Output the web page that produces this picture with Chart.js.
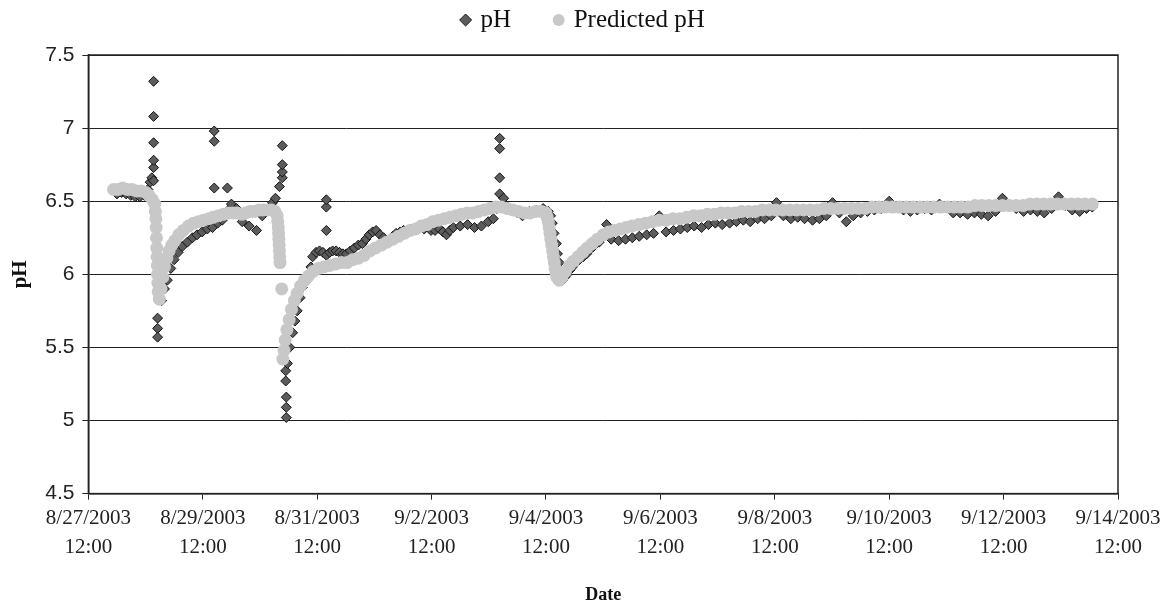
<!DOCTYPE html>
<html>
<head>
<meta charset="utf-8">
<title>pH vs Predicted pH</title>
<script src="https://cdn.jsdelivr.net/npm/chart.js@4"></script>
<style>
    html, body { margin: 0; padding: 0; background: #fff; }
    #wrap { width: 1169px; height: 607px; }
</style>
</head>
<body>
<div id="wrap"><canvas id="phChart"></canvas></div>
<script>
// x values are days after 8/27/2003 12:00
const startTime = Date.UTC(2003, 7, 27, 12);

const yTicks = [4.5, 5, 5.5, 6, 6.5, 7, 7.5];

// measured pH
const phDays = [
    0.50, 0.58, 0.66, 0.74, 0.82, 0.90, 0.98, 1.04, 1.08, 1.11,
    1.14, 1.14, 1.14, 1.14, 1.14, 1.14, 1.21, 1.21, 1.21, 1.28,
    1.33, 1.38, 1.44, 1.50, 1.57, 1.64, 1.73, 1.82, 1.90, 1.99,
    2.08, 2.17, 2.20, 2.20, 2.20, 2.26, 2.34, 2.43, 2.45, 2.50,
    2.59, 2.69, 2.81, 2.94, 3.04, 3.10, 3.16, 3.22, 3.27, 3.34,
    3.39, 3.39, 3.39, 3.39, 3.45, 3.45, 3.46, 3.46, 3.46, 3.48,
    3.52, 3.57, 3.61, 3.65, 3.70, 3.74, 3.80, 3.86, 3.89, 3.92,
    3.98, 4.04, 4.10, 4.16, 4.16, 4.16, 4.16, 4.22, 4.27, 4.33,
    4.39, 4.45, 4.51, 4.58, 4.65, 4.72, 4.79, 4.85, 4.91, 4.97,
    5.03, 5.10, 5.16, 5.26, 5.32, 5.38, 5.45, 5.51, 5.63, 5.75,
    5.87, 5.99, 6.06, 6.14, 6.20, 6.26, 6.32, 6.38, 6.50, 6.63,
    6.75, 6.87, 6.99, 7.08, 7.14, 7.19, 7.19, 7.19, 7.19, 7.26,
    7.33, 7.41, 7.50, 7.59, 7.71, 7.83, 7.95, 8.04, 8.08, 8.11,
    8.14, 8.18, 8.20, 8.23, 8.26, 8.29, 8.33, 8.37, 8.42, 8.46,
    8.52, 8.58, 8.65, 8.71, 8.77, 8.83, 8.93, 9.00, 9.06, 9.14,
    9.27, 9.39, 9.51, 9.63, 9.76, 9.88, 9.98, 10.10, 10.23, 10.35,
    10.47, 10.59, 10.72, 10.84, 10.96, 11.08, 11.21, 11.33, 11.45, 11.57,
    11.70, 11.82, 11.94, 12.03, 12.15, 12.28, 12.40, 12.52, 12.66, 12.78,
    12.90, 13.01, 13.13, 13.25, 13.37, 13.50, 13.62, 13.74, 13.86, 14.00,
    14.13, 14.25, 14.37, 14.49, 14.62, 14.74, 14.88, 15.00, 15.12, 15.24,
    15.37, 15.49, 15.61, 15.73, 15.86, 15.98, 16.10, 16.22, 16.35, 16.47,
    16.59, 16.71, 16.84, 16.96, 17.08, 17.20, 17.33, 17.45, 17.55
];
const phValues = [
    6.55, 6.56, 6.55, 6.54, 6.53, 6.53, 6.54, 6.58, 6.63, 6.66,
    6.64, 6.73, 6.78, 6.90, 7.08, 7.32, 5.70, 5.63, 5.57, 5.82,
    5.90, 5.96, 6.04, 6.10, 6.15, 6.19, 6.22, 6.25, 6.27, 6.29,
    6.31, 6.32, 6.59, 6.91, 6.98, 6.35, 6.37, 6.59, 6.44, 6.48,
    6.45, 6.36, 6.33, 6.30, 6.40, 6.43, 6.45, 6.49, 6.52, 6.60,
    6.66, 6.70, 6.75, 6.88, 5.34, 5.27, 5.16, 5.09, 5.02, 5.39,
    5.50, 5.60, 5.68, 5.75, 5.84, 5.91, 5.95, 5.98, 6.05, 6.12,
    6.15, 6.16, 6.15, 6.13, 6.30, 6.46, 6.51, 6.15, 6.16, 6.16,
    6.15, 6.14, 6.14, 6.16, 6.18, 6.20, 6.21, 6.24, 6.27, 6.29,
    6.30, 6.27, 6.25, 6.22, 6.26, 6.28, 6.29, 6.30, 6.31, 6.32,
    6.31, 6.30, 6.30, 6.31, 6.29, 6.27, 6.30, 6.32, 6.33, 6.34,
    6.32, 6.33, 6.36, 6.38, 6.45, 6.55, 6.66, 6.86, 6.93, 6.52,
    6.46, 6.44, 6.42, 6.40, 6.43, 6.44, 6.45, 6.43, 6.40, 6.35,
    6.28, 6.21, 6.14, 6.08, 6.02, 5.96, 5.98, 6.00, 6.03, 6.05,
    6.08, 6.10, 6.12, 6.14, 6.17, 6.19, 6.22, 6.27, 6.34, 6.24,
    6.23, 6.24, 6.25, 6.26, 6.27, 6.28, 6.40, 6.29, 6.30, 6.31,
    6.32, 6.33, 6.32, 6.34, 6.35, 6.34, 6.35, 6.36, 6.37, 6.36,
    6.38, 6.38, 6.40, 6.49, 6.40, 6.38, 6.39, 6.38, 6.37, 6.38,
    6.40, 6.49, 6.42, 6.36, 6.40, 6.42, 6.43, 6.44, 6.45, 6.50,
    6.46, 6.44, 6.43, 6.44, 6.45, 6.44, 6.48, 6.46, 6.42, 6.42,
    6.41, 6.42, 6.41, 6.40, 6.43, 6.52, 6.47, 6.45, 6.43, 6.44,
    6.43, 6.42, 6.45, 6.53, 6.47, 6.44, 6.43, 6.45, 6.46
];

// model output
const predDays = [
    0.44, 0.52, 0.60, 0.68, 0.76, 0.84, 0.92, 1.00, 1.06, 1.12,
    1.16, 1.17, 1.18, 1.185, 1.19, 1.195, 1.20, 1.205, 1.21, 1.215, 1.22, 1.24,
    1.27, 1.30, 1.33, 1.37, 1.41, 1.46, 1.51, 1.58, 1.66, 1.75,
    1.84, 1.92, 2.01, 2.10, 2.18, 2.27, 2.36, 2.45, 2.53, 2.60,
    2.68, 2.75, 2.83, 2.90, 2.98, 3.05, 3.13, 3.20, 3.26,
    3.30, 3.31, 3.32, 3.325, 3.33, 3.335, 3.34, 3.345, 3.35, 3.38,
    3.40, 3.42, 3.44, 3.47, 3.51, 3.55, 3.60, 3.65, 3.71, 3.78,
    3.85, 3.93, 4.02, 4.12, 4.22, 4.32, 4.42, 4.52, 4.62, 4.72,
    4.82, 4.92, 5.02, 5.12, 5.22, 5.32, 5.42, 5.52, 5.62, 5.72,
    5.82, 5.92, 6.02, 6.12, 6.22, 6.32, 6.42, 6.52, 6.62, 6.72,
    6.82, 6.92, 7.02, 7.12, 7.22, 7.32, 7.42, 7.52, 7.62, 7.72,
    7.82, 7.92, 8.00, 8.02, 8.04, 8.055, 8.07, 8.085, 8.10, 8.115,
    8.13, 8.145, 8.16, 8.175, 8.19, 8.23, 8.28, 8.34, 8.41, 8.48,
    8.56, 8.64, 8.72, 8.81, 8.90, 9.00, 9.10, 9.20, 9.30, 9.40,
    9.50, 9.62, 9.74, 9.86, 9.98, 10.10, 10.22, 10.34, 10.46, 10.58,
    10.70, 10.82, 10.94, 11.06, 11.18, 11.30, 11.42, 11.54, 11.66, 11.78,
    11.90, 12.02, 12.14, 12.26, 12.38, 12.50, 12.62, 12.74, 12.86, 12.98,
    13.10, 13.22, 13.34, 13.46, 13.58, 13.70, 13.82, 13.94, 14.06, 14.18,
    14.30, 14.42, 14.54, 14.66, 14.78, 14.90, 15.02, 15.14, 15.26, 15.38,
    15.50, 15.62, 15.74, 15.86, 15.98, 16.10, 16.22, 16.34, 16.46, 16.58,
    16.70, 16.82, 16.94, 17.06, 17.18, 17.30, 17.42, 17.55
];
const predValues = [
    6.58, 6.58, 6.59, 6.58, 6.58, 6.57, 6.57, 6.56, 6.54, 6.51,
    6.48, 6.43, 6.38, 6.32, 6.25, 6.18, 6.12, 6.06, 6.00, 5.94, 5.88, 5.83,
    5.90, 5.98, 6.05, 6.11, 6.16, 6.20, 6.23, 6.27, 6.30, 6.33,
    6.35, 6.36, 6.37, 6.38, 6.39, 6.40, 6.41, 6.42, 6.42, 6.42,
    6.41, 6.42, 6.43, 6.43, 6.44, 6.44, 6.44, 6.44, 6.43,
    6.40, 6.36, 6.32, 6.28, 6.24, 6.20, 6.16, 6.12, 6.08, 5.90,
    5.42, 5.48, 5.55, 5.62, 5.69, 5.76, 5.82, 5.87, 5.92, 5.96,
    5.99, 6.02, 6.04, 6.05, 6.06, 6.07, 6.08, 6.08, 6.10, 6.11,
    6.13, 6.16, 6.18, 6.20, 6.22, 6.24, 6.26, 6.28, 6.30, 6.31,
    6.33, 6.34, 6.36, 6.37, 6.38, 6.39, 6.40, 6.41, 6.42, 6.42,
    6.43, 6.44, 6.45, 6.46, 6.46, 6.45, 6.44, 6.43, 6.42, 6.42,
    6.43, 6.43, 6.42, 6.39, 6.36, 6.32, 6.28, 6.24, 6.20, 6.16,
    6.12, 6.08, 6.04, 6.01, 5.98, 5.96, 5.98, 6.02, 6.06, 6.09,
    6.12, 6.15, 6.18, 6.21, 6.24, 6.27, 6.29, 6.30, 6.31, 6.32,
    6.33, 6.34, 6.35, 6.36, 6.37, 6.37, 6.38, 6.38, 6.39, 6.40,
    6.40, 6.41, 6.41, 6.42, 6.42, 6.42, 6.43, 6.43, 6.43, 6.44,
    6.44, 6.44, 6.44, 6.44, 6.44, 6.44, 6.44, 6.44, 6.45, 6.45,
    6.45, 6.45, 6.45, 6.45, 6.45, 6.46, 6.46, 6.46, 6.46, 6.46,
    6.46, 6.46, 6.46, 6.46, 6.46, 6.46, 6.46, 6.46, 6.46, 6.46,
    6.47, 6.47, 6.47, 6.47, 6.47, 6.47, 6.47, 6.47, 6.48, 6.48,
    6.48, 6.48, 6.48, 6.48, 6.48, 6.48, 6.48, 6.48
];

function toPoints(xs, ys) {
    return xs.map((x, i) => ({ x: x, y: ys[i] }));
}

function dateLabel(v) {
    const d = new Date(startTime + v * 86400000);
    return [(d.getUTCMonth() + 1) + '/' + d.getUTCDate() + '/' + d.getUTCFullYear(), '12:00'];
}

// box round the plot area (Excel style)
const plotBorder = {
    id: 'plotBorder',
    afterDraw(chart) {
        const a = chart.chartArea;
        const ctx = chart.ctx;
        ctx.save();
        ctx.strokeStyle = '#222';
        ctx.lineWidth = 1.5;
        ctx.strokeRect(a.left, a.top, a.right - a.left, a.bottom - a.top);
        ctx.restore();
    }
};

// extra room under the legend, and centre it on the whole figure
const legendPlacement = {
    id: 'legendPlacement',
    beforeInit(chart) {
        const fit = chart.legend.fit;
        chart.legend.fit = function () {
            fit.call(this);
            this.height += 12.5;
        };
    },
    afterLayout(chart) {
        chart.legend.left += 21;
        chart.legend.right += 21;
    }
};

const serif = "'Liberation Serif', 'Times New Roman', serif";

const ctx = document.getElementById('phChart').getContext('2d');
new Chart(ctx, {
    type: 'scatter',
    data: {
        datasets: [
            {
                label: 'pH',
                data: toPoints(phDays, phValues),
                pointStyle: 'rectRot',
                pointRadius: 5,
                backgroundColor: '#5c5c5c',
                borderColor: '#151515',
                borderWidth: 1,
                order: 2
            },
            {
                label: 'Predicted pH',
                data: toPoints(predDays, predValues),
                pointStyle: 'circle',
                pointRadius: 6.5,
                backgroundColor: '#c8c8c8',
                borderColor: '#c8c8c8',
                borderWidth: 0,
                order: 1
            }
        ]
    },
    options: {
        responsive: true,
        maintainAspectRatio: false,
        animation: false,
        layout: {
            padding: { top: -37.5, left: 8, right: 51, bottom: 1 }
        },
        plugins: {
            legend: {
                position: 'top',
                labels: {
                    usePointStyle: true,
                    boxWidth: 5,
                    boxHeight: 8.5,
                    padding: 45,
                    color: '#111',
                    font: { family: serif, size: 25 },
                    sort: (a, b) => a.datasetIndex - b.datasetIndex
                }
            },
            tooltip: { enabled: false }
        },
        scales: {
            x: {
                type: 'linear',
                min: 0,
                max: 18,
                grid: {
                    drawOnChartArea: false,
                    drawTicks: true,
                    tickLength: 6,
                    color: '#222'
                },
                border: { color: '#222', width: 1.5 },
                ticks: {
                    stepSize: 2,
                    maxRotation: 0,
                    padding: 4,
                    color: '#222',
                    font: { family: serif, size: 21, lineHeight: 1.4 },
                    callback: v => dateLabel(v)
                },
                title: {
                    display: true,
                    text: 'Date',
                    color: '#111',
                    font: { family: serif, size: 18, weight: 'bold' },
                    padding: { top: 18, bottom: 0 }
                }
            },
            y: {
                min: 4.5,
                max: 7.5,
                afterBuildTicks: axis => {
                    axis.ticks = yTicks.map(v => ({ value: v }));
                },
                grid: {
                    color: '#222',
                    lineWidth: 1,
                    tickLength: 6
                },
                border: { color: '#222', width: 1.5 },
                ticks: {
                    padding: 8,
                    color: '#222',
                    font: { family: "'Liberation Sans', Arial, sans-serif", size: 21 },
                    callback: v => String(v)
                },
                title: {
                    display: true,
                    text: 'pH',
                    color: '#111',
                    font: { family: serif, size: 21, weight: 'bold' },
                    padding: { top: 0, bottom: 4 }
                }
            }
        }
    },
    plugins: [plotBorder, legendPlacement]
});
</script>
</body>
</html>
